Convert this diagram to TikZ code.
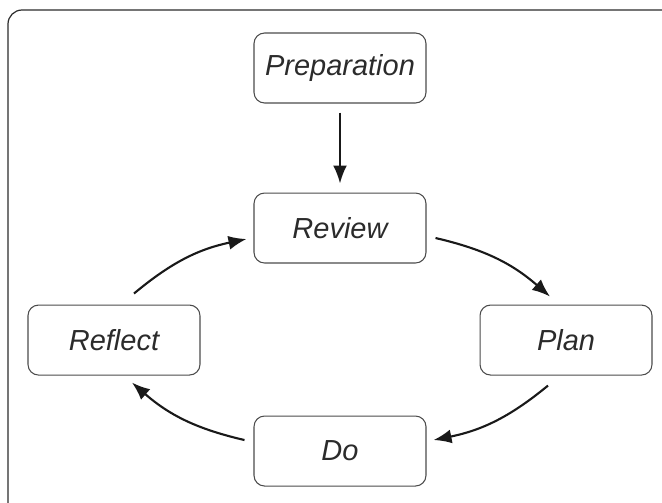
\documentclass[tikz,border=0pt]{standalone}
\usepackage{fontspec}
\setmainfont{Liberation Sans}
\usepackage{xcolor}
\usepackage{tikz}
\usetikzlibrary{arrows.meta, positioning}

\definecolor{inkgray}{HTML}{2B2B2B}

\begin{document}
\begin{tikzpicture}[
    x=0.02cm, y=-0.02cm,
    node distance=1.78cm and 1.06cm,
    stage/.style={draw=inkgray!85, rectangle, rounded corners=6pt, minimum width=3.44cm, minimum height=1.4cm, align=center, text=inkgray, font=\itshape\fontsize{16.5}{20}\selectfont, line width=0.6pt},
    arrow/.style={-{Latex[length=0.36cm, width=0.28cm]}, line width=1.2pt, draw=black!90}
]

\useasboundingbox (0,0) rectangle (662,503);
\clip (0,0) rectangle (662,503);

% Frame
\draw [draw=inkgray, line width=0.7pt, rounded corners=8pt] (8,10) rectangle (690,530);

% Nodes
\node (prep) [stage] at (340,68) {Preparation};
\node (review) [stage, below=of prep] {Review};
\node (plan) [stage, below right=0.82cm and 1.06cm of review] {Plan};
\node (reflect) [stage, below left=0.82cm and 1.06cm of review] {Reflect};
\node (do) [stage, below=3.04cm of review] {Do};

% Paths
\draw [arrow, shorten <=0.18cm, shorten >=0.18cm] (prep) -- (review);
\draw [arrow] ([shift={(9,10)}]review.east) to[bend left=14] ([shift={(-16,-8)}]plan.north);
\draw [arrow] ([shift={(-18,10)}]plan.south) to[bend left=14] ([shift={(7,-11)}]do.east);
\draw [arrow] ([shift={(-9,-11)}]do.west) to[bend left=14] ([shift={(18,7)}]reflect.south);
\draw [arrow] ([shift={(20,-11)}]reflect.north) to[bend left=14] ([shift={(-7,11)}]review.west);

\end{tikzpicture}
\end{document}
